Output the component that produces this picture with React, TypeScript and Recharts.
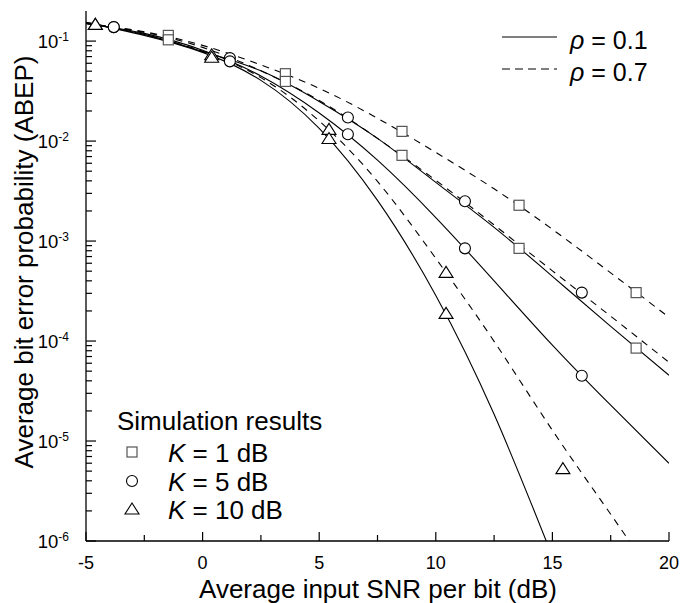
import { ComposedChart, Line, Scatter, XAxis, YAxis } from 'recharts';

const FONT = '"Liberation Sans", Arial, Helvetica, sans-serif';

// analytical curves, every 2.5 dB
const snrGrid = [-5, -2.5, 0, 2.5, 5, 7.5, 10, 12.5, 15, 17.5, 20];
const k1Rho01 = [0.15, 0.1167, 0.0789, 0.0504, 0.0249, 0.01064, 0.00386, 0.00137, 4.44e-4, 1.4e-4, 4.54e-5];
const k1Rho07 = [0.15, 0.124, 0.0906, 0.0578, 0.0337, 0.0169, 0.0077, 0.00333, 0.00131, 4.81e-4, 1.73e-4];
const k5Rho01 = [0.15, 0.1194, 0.081, 0.0447, 0.0191, 0.00645, 0.00172, 4.0e-4, 9.1e-5, 2.28e-5, 5.98e-6];
const k5Rho07 = [0.15, 0.1222, 0.0865, 0.0504, 0.0255, 0.01064, 0.00405, 0.00145, 5.04e-4, 1.77e-4, 6.12e-5];
const k10Rho01 = [0.154, 0.114, 0.0771, 0.0405, 0.0134, 0.00255, 2.86e-4, 1.85e-5, 7.0e-7, null, null];
const k10Rho07 = [0.154, 0.1167, 0.0789, 0.0431, 0.0159, 0.00395, 6.71e-4, 9.93e-5, 1.28e-5, 1.85e-6, 2.61e-7];

// simulation points
const simK1X = [-1.47, 3.55, 8.55, 13.57, 18.59];
const simK1Rho01 = [0.103, 0.0395, 0.0072, 8.45e-4, 8.5e-5];
const simK1Rho07 = [0.114, 0.0472, 0.0125, 0.00228, 3.05e-4];
const simK5X = [-3.81, 1.17, 6.23, 11.25, 16.26];
const simK5Rho01 = [0.138, 0.0627, 0.0117, 8.45e-4, 4.5e-5];
const simK5Rho07 = [0.138, 0.0676, 0.0172, 0.0025, 3.05e-4];
const simK10X = [-4.6, 0.39, 5.42, 10.44, 15.45];
const simK10Rho01 = [0.147, 0.069, 0.0106, 1.89e-4, null];
const simK10Rho07 = [0.147, 0.073, 0.0131, 4.86e-4, 5.3e-6];

const xTicks = [-5, -2.5, 0, 2.5, 5, 7.5, 10, 12.5, 15, 17.5, 20];
const xLabels = [-5, 0, 5, 10, 15, 20];
const decades = [1e-6, 1e-5, 1e-4, 1e-3, 1e-2, 1e-1];
const minorSteps = [2, 3, 4, 5, 6, 7, 8, 9];
const yTicks = [
  ...decades,
  ...decades.slice(0, 5).flatMap((d) => minorSteps.map((m) => m * d)),
];

const toPoints = (xs: number[], ys: (number | null)[]) =>
  xs.map((x, i) => ({ x, y: ys[i] })).filter((p) => p.y != null);

const isDecade = (v: number) => {
  const e = Math.log10(v);
  return Math.abs(e - Math.round(e)) < 1e-6;
};

function BottomTick({ x, y, payload }: any) {
  const v = payload.value;
  const major = xLabels.includes(v);
  return (
    <g>
      <line x1={x} x2={x} y1={y} y2={y - (major ? 9 : 6)} stroke="#000" strokeWidth={1.2} />
      {major && (
        <text x={x} y={y + 28} textAnchor="middle" fontSize={18} fontFamily={FONT} fill="#000">
          {v}
        </text>
      )}
    </g>
  );
}

function TopTick({ x, y }: any) {
  return <line x1={x} x2={x} y1={y} y2={y + 8} stroke="#000" strokeWidth={1.2} />;
}

function LeftTick({ x, y, payload }: any) {
  const v = payload.value;
  const major = isDecade(v);
  return (
    <g>
      <line x1={x} x2={x + (major ? 10 : 6)} y1={y} y2={y} stroke="#000" strokeWidth={1.2} />
      {major && (
        <text x={x - 17} y={y + 7} textAnchor="end" fontSize={18.5} fontFamily={FONT} fill="#000">
          10
          <tspan dy={-7} fontSize={12}>
            {Math.round(Math.log10(v))}
          </tspan>
        </text>
      )}
    </g>
  );
}

function RightTick({ x, y, payload }: any) {
  const major = isDecade(payload.value);
  return <line x1={x} x2={x - (major ? 10 : 6)} y1={y} y2={y} stroke="#000" strokeWidth={1.2} />;
}

const Square = ({ cx, cy }: any) => (
  <rect x={cx - 5} y={cy - 5} width={10} height={10} fill="#fff" stroke="#555" strokeWidth={1.2} />
);
const Circle = ({ cx, cy }: any) => (
  <circle cx={cx} cy={cy} r={5.5} fill="#fff" stroke="#000" strokeWidth={1.1} />
);
const Triangle = ({ cx, cy }: any) => (
  <polygon
    points={`${cx},${cy - 6} ${cx - 7},${cy + 5} ${cx + 7},${cy + 5}`}
    fill="#fff"
    stroke="#000"
    strokeWidth={1.1}
  />
);

const curves = [
  { ys: k1Rho07, dashed: true },
  { ys: k1Rho01, dashed: false },
  { ys: k5Rho07, dashed: true },
  { ys: k5Rho01, dashed: false },
  { ys: k10Rho07, dashed: true },
  { ys: k10Rho01, dashed: false },
];

const sims = [
  { xs: simK1X, ys: simK1Rho07, shape: Square },
  { xs: simK1X, ys: simK1Rho01, shape: Square },
  { xs: simK5X, ys: simK5Rho07, shape: Circle },
  { xs: simK5X, ys: simK5Rho01, shape: Circle },
  { xs: simK10X, ys: simK10Rho07, shape: Triangle },
  { xs: simK10X, ys: simK10Rho01, shape: Triangle },
];

const axisLine = { stroke: '#000', strokeWidth: 1.3 };

export default function App() {
  return (
    <div style={{ position: 'relative', width: 682, height: 603 }}>
      <style>{'body{margin:0}'}</style>
      <ComposedChart width={682} height={603} margin={{ top: 11, right: 13, left: 0, bottom: 0 }}>
        <XAxis
          xAxisId="b"
          dataKey="x"
          type="number"
          domain={[-5, 20]}
          ticks={xTicks}
          interval={0}
          height={62}
          tickSize={0}
          tickMargin={0}
          tickLine={false}
          axisLine={axisLine}
          tick={<BottomTick />}
          allowDataOverflow
        />
        <XAxis
          xAxisId="t"
          orientation="top"
          dataKey="x"
          type="number"
          domain={[-5, 20]}
          ticks={xTicks}
          interval={0}
          height={0}
          tickSize={0}
          tickMargin={0}
          tickLine={false}
          axisLine={axisLine}
          tick={<TopTick />}
          allowDataOverflow
        />
        <YAxis
          yAxisId="l"
          dataKey="y"
          type="number"
          scale="log"
          domain={[1e-6, 0.2]}
          ticks={yTicks}
          interval={0}
          width={86}
          tickSize={0}
          tickMargin={0}
          tickLine={false}
          axisLine={axisLine}
          tick={<LeftTick />}
          allowDataOverflow
        />
        <YAxis
          yAxisId="r"
          orientation="right"
          type="number"
          scale="log"
          domain={[1e-6, 0.2]}
          ticks={yTicks}
          interval={0}
          width={0}
          tickSize={0}
          tickMargin={0}
          tickLine={false}
          axisLine={axisLine}
          tick={<RightTick />}
          allowDataOverflow
        />
        {curves.map((c, i) => (
          <Line
            key={`c${i}`}
            xAxisId="b"
            yAxisId="l"
            data={toPoints(snrGrid, c.ys)}
            dataKey="y"
            type="natural"
            stroke="#000"
            strokeWidth={1.1}
            strokeDasharray={c.dashed ? '7 6' : undefined}
            dot={false}
            activeDot={false}
            isAnimationActive={false}
          />
        ))}
        {sims.map((s, i) => (
          <Scatter
            key={`s${i}`}
            xAxisId="b"
            yAxisId="l"
            data={toPoints(s.xs, s.ys)}
            dataKey="y"
            shape={s.shape}
            isAnimationActive={false}
          />
        ))}
      </ComposedChart>
      <svg
        width={682}
        height={603}
        style={{ position: 'absolute', left: 0, top: 0, pointerEvents: 'none' }}
        fontFamily={FONT}
      >
        <text x={33} y={262} transform="rotate(-90 33 262)" textAnchor="middle" fontSize={26} fill="#000">
          Average bit error probability (ABEP)
        </text>
        <text x={378} y={598} textAnchor="middle" fontSize={26} fill="#000">
          Average input SNR per bit (dB)
        </text>

        <line x1={502} x2={557} y1={37} y2={37} stroke="#000" strokeWidth={1.1} />
        <text x={570} y={49} fontSize={25} fill="#000">
          <tspan fontStyle="italic">ρ</tspan> = 0.1
        </text>
        <line x1={502} x2={557} y1={69} y2={69} stroke="#000" strokeWidth={1.1} strokeDasharray="8 5" />
        <text x={570} y={81} fontSize={25} fill="#000">
          <tspan fontStyle="italic">ρ</tspan> = 0.7
        </text>

        <text x={117} y={430} fontSize={26} fill="#000">
          Simulation results
        </text>
        <Square cx={132} cy={452} />
        <text x={168} y={462} fontSize={26} fill="#000">
          <tspan fontStyle="italic">K</tspan> = 1 dB
        </text>
        <Circle cx={132} cy={481} />
        <text x={168} y={491} fontSize={26} fill="#000">
          <tspan fontStyle="italic">K</tspan> = 5 dB
        </text>
        <Triangle cx={132} cy={509} />
        <text x={168} y={519} fontSize={26} fill="#000">
          <tspan fontStyle="italic">K</tspan> = 10 dB
        </text>
      </svg>
    </div>
  );
}
